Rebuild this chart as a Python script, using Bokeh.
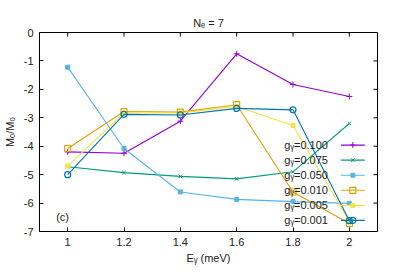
from bokeh.plotting import figure
from bokeh.models import FixedTicker, Label, Range1d
from bokeh.embed import file_html
from bokeh.resources import INLINE

# ---- data ----
energy = [1.0, 1.2, 1.4, 1.6, 1.8, 2.0]
g_labels = ["0.100", "0.075", "0.050", "0.010", "0.005", "0.001"]
m_g0100 = [-4.20, -4.25, -3.12, -0.75, -1.83, -2.25]
m_g0075 = [-4.72, -4.93, -5.06, -5.15, -4.90, -3.20]
m_g0050 = [-1.22, -4.08, -5.61, -5.87, -5.95, -6.01]
m_g0010 = [-4.08, -2.78, -2.80, -2.54, -5.61, -6.72]
m_g0005 = [-4.70, -2.83, -2.83, -2.60, -3.27, -6.65]
m_g0001 = [-5.00, -2.88, -2.90, -2.67, -2.72, -6.62]
x_ticks = [1, 1.2, 1.4, 1.6, 1.8, 2]
x_tick_labels = ["1", "1.2", "1.4", "1.6", "1.8", "2"]
y_ticks = [0, -1, -2, -3, -4, -5, -6, -7]
y_tick_labels = ["0", "-1", "-2", "-3", "-4", "-5", "-6", "-7"]

series = [m_g0100, m_g0075, m_g0050, m_g0010, m_g0005, m_g0001]
colors = ["#9400d3", "#009e73", "#56b4e9", "#e69f00", "#f0e442", "#0072b2"]
markers = ["cross", "x", "square", "square", "square", "circle"]
filled = [True, True, True, False, True, False]
msizes = [6, 5, 4, 6, 4, 6]

X_MIN, X_MAX, Y_MIN, Y_MAX = 0.9, 2.1, -7, 0

FONT = "Liberation Sans"
FS = "11px"
TXT = "#222222"

p = figure(frame_width=338, frame_height=199, output_backend="svg", toolbar_location=None,
           x_range=Range1d(X_MIN, X_MAX), y_range=Range1d(Y_MIN, Y_MAX),
           min_border_left=35, min_border_right=10, min_border_top=32, min_border_bottom=32)
p.grid.visible = False
p.background_fill_color = "white"
p.border_fill_color = "white"
p.outline_line_color = "black"
p.outline_line_width = 1

p.title.text = "N\u2091 = 7"
p.title.align = "center"
p.title.text_font = FONT
p.title.text_font_size = FS
p.title.text_font_style = "normal"
p.title.text_color = TXT
p.title.standoff = 7

for ax in p.xaxis:
    ax.ticker = FixedTicker(ticks=x_ticks)
    ax.major_label_overrides = dict(zip(x_ticks, x_tick_labels))
    ax.axis_label = "E\u1d67 (meV)"
for ax in p.yaxis:
    ax.ticker = FixedTicker(ticks=y_ticks)
    ax.major_label_overrides = dict(zip(y_ticks, y_tick_labels))
    ax.axis_label = "M\u2092/M\u2080"
for ax in list(p.xaxis) + list(p.yaxis):
    ax.major_tick_in = 4
    ax.major_tick_out = 0
    ax.minor_tick_line_color = None
    ax.major_label_text_font = FONT
    ax.major_label_text_font_size = FS
    ax.major_label_text_color = TXT
    ax.axis_label_text_font = FONT
    ax.axis_label_text_font_size = FS
    ax.axis_label_text_font_style = "normal"
    ax.axis_label_text_color = TXT
    ax.axis_line_color = "black"
    ax.major_tick_line_color = "black"
    ax.major_label_standoff = 6
p.xaxis.axis_label_standoff = 3
p.yaxis.axis_label_standoff = 5

# mirrored ticks on top and right (gnuplot style)
tick_dy = (Y_MAX - Y_MIN) * 4 / 199
tick_dx = (X_MAX - X_MIN) * 4 / 338
p.segment(x0=x_ticks, y0=[Y_MAX] * len(x_ticks), x1=x_ticks, y1=[Y_MAX - tick_dy] * len(x_ticks),
          line_color="black", line_width=1)
p.segment(x0=[X_MAX] * len(y_ticks), y0=y_ticks, x1=[X_MAX - tick_dx] * len(y_ticks), y1=y_ticks,
          line_color="black", line_width=1)

def draw_marker(xs, ys, i):
    if filled[i]:
        p.scatter(xs, ys, marker=markers[i], size=msizes[i], line_color=colors[i],
                  fill_color=colors[i], line_width=1)
    else:
        p.scatter(xs, ys, marker=markers[i], size=msizes[i], line_color=colors[i],
                  fill_alpha=0, line_width=1.2)

for i, ys in enumerate(series):
    p.line(energy, ys, line_color=colors[i], line_width=1.1)
    draw_marker(energy, ys, i)

# legend (gnuplot style: text then sample)
leg_text_x = 1.924
leg_x0, leg_x1 = 1.97, 2.055
leg_y0, leg_dy = -3.96, 0.53
for i, lab in enumerate(g_labels):
    yy = leg_y0 - i * leg_dy
    p.add_layout(Label(x=leg_text_x, y=yy, text="g\u1d67=" + lab, text_align="right",
                       text_baseline="middle", text_font=FONT, text_font_size=FS,
                       text_color=TXT))
    p.line([leg_x0, leg_x1], [yy, yy], line_color=colors[i], line_width=1.1)
    draw_marker([(leg_x0 + leg_x1) / 2], [yy], i)

p.add_layout(Label(x=0.982, y=-6.5, text="(c)", text_align="center", text_baseline="middle",
                   text_font=FONT, text_font_size=FS, text_color=TXT))

open("out.html", "w").write(file_html(p, INLINE))
